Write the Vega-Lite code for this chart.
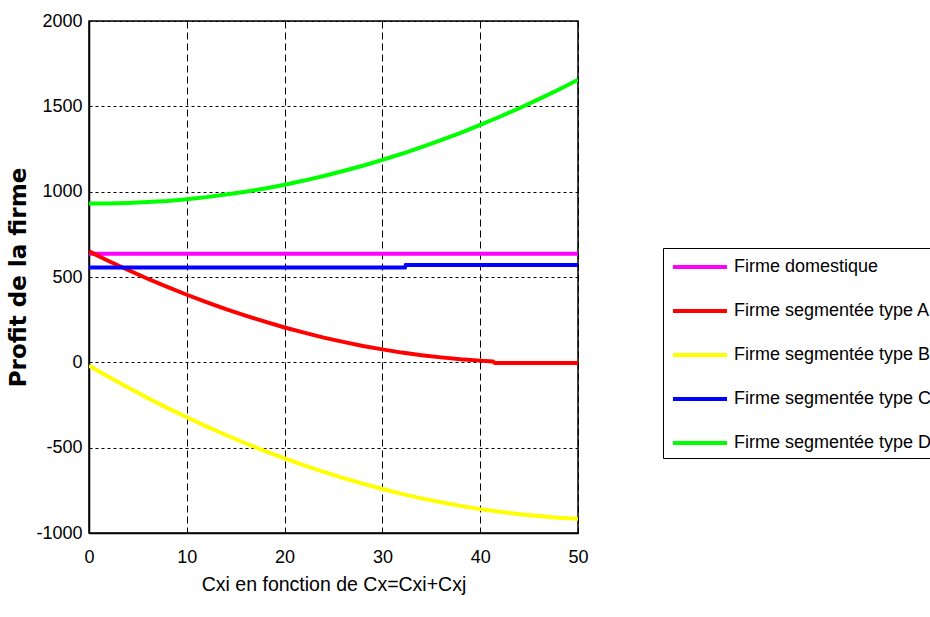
{
  "$schema": "https://vega.github.io/schema/vega-lite/v6.json",
  "width": 489,
  "height": 512,
  "autosize": {"type": "none"},
  "padding": {"left": 89, "top": 21, "right": 352, "bottom": 84},
  "background": "white",
  "config": {
    "view": {"stroke": "#000", "strokeWidth": 1.5},
    "font": "Liberation Sans"
  },
  "data": {
    "values": [
      {"s": "Firme domestique", "x": 0, "y": 636},
      {"s": "Firme domestique", "x": 50, "y": 636},

      {"s": "Firme segmentée type A", "x": 0, "y": 650},
      {"s": "Firme segmentée type A", "x": 2, "y": 594},
      {"s": "Firme segmentée type A", "x": 4, "y": 541},
      {"s": "Firme segmentée type A", "x": 6, "y": 490},
      {"s": "Firme segmentée type A", "x": 8, "y": 442},
      {"s": "Firme segmentée type A", "x": 10, "y": 396},
      {"s": "Firme segmentée type A", "x": 12, "y": 353},
      {"s": "Firme segmentée type A", "x": 14, "y": 312},
      {"s": "Firme segmentée type A", "x": 16, "y": 274},
      {"s": "Firme segmentée type A", "x": 18, "y": 238},
      {"s": "Firme segmentée type A", "x": 20, "y": 204},
      {"s": "Firme segmentée type A", "x": 22, "y": 174},
      {"s": "Firme segmentée type A", "x": 24, "y": 145},
      {"s": "Firme segmentée type A", "x": 26, "y": 120},
      {"s": "Firme segmentée type A", "x": 28, "y": 96},
      {"s": "Firme segmentée type A", "x": 30, "y": 76},
      {"s": "Firme segmentée type A", "x": 32, "y": 57},
      {"s": "Firme segmentée type A", "x": 34, "y": 42},
      {"s": "Firme segmentée type A", "x": 36, "y": 29},
      {"s": "Firme segmentée type A", "x": 38, "y": 18},
      {"s": "Firme segmentée type A", "x": 40, "y": 10},
      {"s": "Firme segmentée type A", "x": 41.3, "y": 5},
      {"s": "Firme segmentée type A", "x": 41.5, "y": -4},
      {"s": "Firme segmentée type A", "x": 50, "y": -4},

      {"s": "Firme segmentée type B", "x": 0, "y": -20},
      {"s": "Firme segmentée type B", "x": 2, "y": -85},
      {"s": "Firme segmentée type B", "x": 4, "y": -148},
      {"s": "Firme segmentée type B", "x": 6, "y": -209},
      {"s": "Firme segmentée type B", "x": 8, "y": -267},
      {"s": "Firme segmentée type B", "x": 10, "y": -322},
      {"s": "Firme segmentée type B", "x": 12, "y": -375},
      {"s": "Firme segmentée type B", "x": 14, "y": -426},
      {"s": "Firme segmentée type B", "x": 16, "y": -474},
      {"s": "Firme segmentée type B", "x": 18, "y": -520},
      {"s": "Firme segmentée type B", "x": 20, "y": -563},
      {"s": "Firme segmentée type B", "x": 22, "y": -604},
      {"s": "Firme segmentée type B", "x": 24, "y": -642},
      {"s": "Firme segmentée type B", "x": 26, "y": -678},
      {"s": "Firme segmentée type B", "x": 28, "y": -711},
      {"s": "Firme segmentée type B", "x": 30, "y": -742},
      {"s": "Firme segmentée type B", "x": 32, "y": -771},
      {"s": "Firme segmentée type B", "x": 34, "y": -797},
      {"s": "Firme segmentée type B", "x": 36, "y": -820},
      {"s": "Firme segmentée type B", "x": 38, "y": -841},
      {"s": "Firme segmentée type B", "x": 40, "y": -860},
      {"s": "Firme segmentée type B", "x": 42, "y": -876},
      {"s": "Firme segmentée type B", "x": 44, "y": -890},
      {"s": "Firme segmentée type B", "x": 46, "y": -901},
      {"s": "Firme segmentée type B", "x": 48, "y": -910},
      {"s": "Firme segmentée type B", "x": 50, "y": -916},

      {"s": "Firme segmentée type C", "x": 0, "y": 555},
      {"s": "Firme segmentée type C", "x": 32.3, "y": 555},
      {"s": "Firme segmentée type C", "x": 32.4, "y": 571},
      {"s": "Firme segmentée type C", "x": 50, "y": 571},

      {"s": "Firme segmentée type D", "x": 0, "y": 931},
      {"s": "Firme segmentée type D", "x": 2, "y": 931},
      {"s": "Firme segmentée type D", "x": 4, "y": 934},
      {"s": "Firme segmentée type D", "x": 6, "y": 939},
      {"s": "Firme segmentée type D", "x": 8, "y": 946},
      {"s": "Firme segmentée type D", "x": 10, "y": 956},
      {"s": "Firme segmentée type D", "x": 12, "y": 968},
      {"s": "Firme segmentée type D", "x": 14, "y": 983},
      {"s": "Firme segmentée type D", "x": 16, "y": 1000},
      {"s": "Firme segmentée type D", "x": 18, "y": 1019},
      {"s": "Firme segmentée type D", "x": 20, "y": 1041},
      {"s": "Firme segmentée type D", "x": 22, "y": 1065},
      {"s": "Firme segmentée type D", "x": 24, "y": 1092},
      {"s": "Firme segmentée type D", "x": 26, "y": 1121},
      {"s": "Firme segmentée type D", "x": 28, "y": 1152},
      {"s": "Firme segmentée type D", "x": 30, "y": 1186},
      {"s": "Firme segmentée type D", "x": 32, "y": 1222},
      {"s": "Firme segmentée type D", "x": 34, "y": 1261},
      {"s": "Firme segmentée type D", "x": 36, "y": 1302},
      {"s": "Firme segmentée type D", "x": 38, "y": 1345},
      {"s": "Firme segmentée type D", "x": 40, "y": 1391},
      {"s": "Firme segmentée type D", "x": 42, "y": 1439},
      {"s": "Firme segmentée type D", "x": 44, "y": 1489},
      {"s": "Firme segmentée type D", "x": 46, "y": 1542},
      {"s": "Firme segmentée type D", "x": 48, "y": 1597},
      {"s": "Firme segmentée type D", "x": 50, "y": 1655}
    ]
  },
  "mark": {"type": "line", "strokeWidth": 4, "clip": true},
  "encoding": {
    "x": {
      "field": "x",
      "type": "quantitative",
      "scale": {"domain": [0, 50], "nice": false, "zero": false},
      "axis": {
        "values": [0, 10, 20, 30, 40, 50],
        "labelExpr": "datum.value",
        "labelFlush": false,
        "title": "Cxi en fonction de Cx=Cxi+Cxj",
        "titleFont": "Liberation Sans",
        "titleFontSize": 19.5,
        "titleFontWeight": "normal",
        "titleColor": "#000",
        "titlePadding": 9,
        "labelFont": "Liberation Sans",
        "labelFontSize": 18,
        "labelColor": "#000",
        "labelPadding": 15,
        "ticks": false,
        "domainColor": "#000",
        "domainWidth": 1.5,
        "grid": true,
        "gridColor": "#000",
        "gridOpacity": 1,
        "gridWidth": 1,
        "gridDash": [7, 4]
      }
    },
    "y": {
      "field": "y",
      "type": "quantitative",
      "scale": {"domain": [-1000, 2000], "nice": false, "zero": false},
      "axis": {
        "values": [-1000, -500, 0, 500, 1000, 1500, 2000],
        "labelExpr": "datum.value",
        "labelFlush": false,
        "title": "Profit de la firme",
        "titleFont": "DejaVu Sans",
        "titleFontSize": 23,
        "titleFontWeight": "bold",
        "titleColor": "#000",
        "titleX": -71,
        "titleY": 256,
        "titleAlign": "center",
        "titleBaseline": "middle",
        "titleAngle": -90,
        "labelFont": "Liberation Sans",
        "labelFontSize": 18,
        "labelColor": "#000",
        "labelPadding": 7,
        "ticks": false,
        "domainColor": "#000",
        "domainWidth": 1.5,
        "grid": true,
        "gridColor": "#000",
        "gridOpacity": 1,
        "gridWidth": 1,
        "gridDash": [3, 3]
      }
    },
    "color": {
      "field": "s",
      "type": "nominal",
      "scale": {
        "domain": ["Firme domestique", "Firme segmentée type A", "Firme segmentée type B", "Firme segmentée type C", "Firme segmentée type D"],
        "range": ["#ff00ff", "#ff0000", "#ffff00", "#0000ff", "#00ff00"]
      },
      "legend": {
        "title": null,
        "orient": "none",
        "legendX": 574,
        "legendY": 227,
        "direction": "vertical",
        "symbolType": "M-2.5,0H2.5",
        "symbolSize": 467,
        "symbolStrokeWidth": 4,
        "symbolOffset": 18,
        "labelFont": "Liberation Sans",
        "labelFontSize": 18,
        "labelColor": "#000",
        "labelOffset": 21,
        "labelLimit": 400,
        "padding": 6,
        "rowPadding": 22,
        "strokeColor": "#000",
        "fillColor": "#fff"
      }
    }
  }
}
